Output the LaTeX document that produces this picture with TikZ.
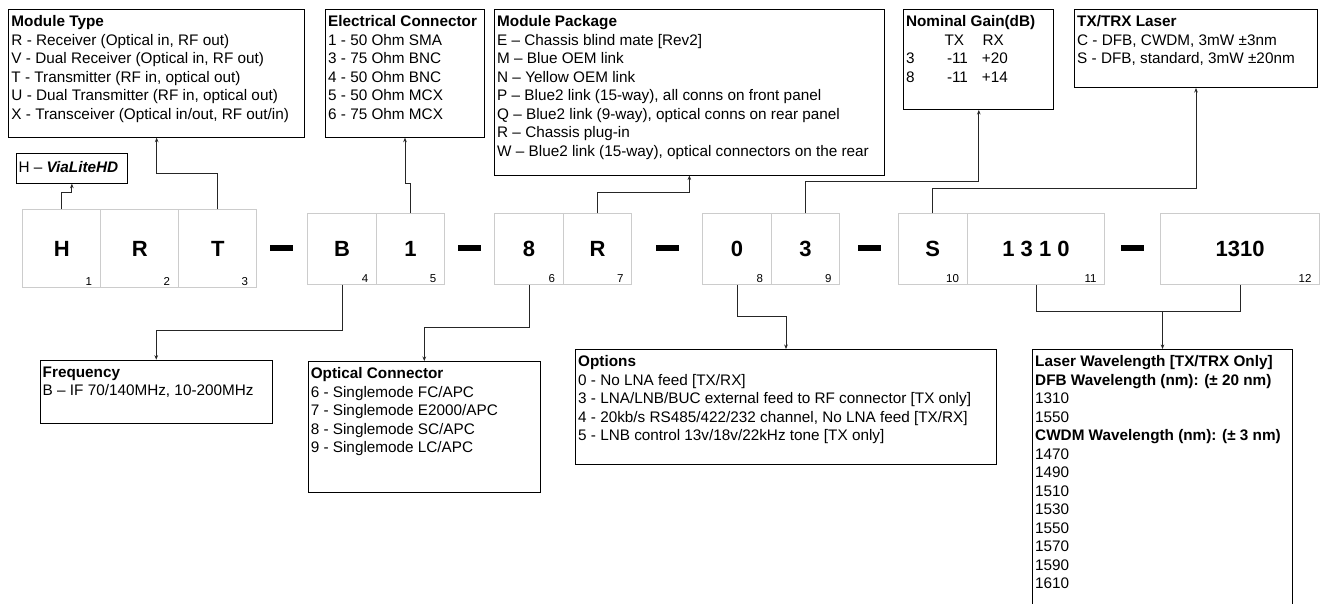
\documentclass[tikz,border=0pt]{standalone}
\usepackage{fontspec}
\setmainfont{Liberation Sans}
\usetikzlibrary{arrows.meta}
\begin{document}
\begin{tikzpicture}[x=1pt,y=-1pt,
  txtbox/.style={draw=black, line width=1pt, anchor=north west, inner sep=0pt, fill=white},
  txt/.style={anchor=north west, inner sep=0pt, align=left, font=\fontsize{15.3}{18.5}\selectfont},
  code/.style={draw=gray!40, line width=1pt, anchor=north west, inner sep=0pt, font=\fontsize{22}{26}\selectfont\bfseries},
  idx/.style={font=\fontsize{11.5}{13}\selectfont, anchor=base east, inner sep=0pt},
  bar/.style={fill=black, inner sep=0pt, minimum width=23pt, minimum height=6.5pt},
  conn/.style={draw=black!85, line width=0.9pt},
  arr/.style={conn, -{Stealth[length=4.5pt,width=3.6pt]}}
]
\useasboundingbox (0,0) rectangle (1322,603);
\clip (0,0) rectangle (1322,603);
\fill[white] (0,0) rectangle (1322,603);

% ---------- text boxes ----------
\node[txtbox, minimum width=295.7pt, minimum height=127.4pt] (mt) at (8.3,9.3) {};
\node[txt] (mtT) at ([xshift=3pt,yshift=-4.4pt]mt.north west) {\rule{0pt}{13pt}\textbf{Module Type}\\
R - Receiver (Optical in, RF out)\\
V - Dual Receiver (Optical in, RF out)\\
T - Transmitter (RF in, optical out)\\
U - Dual Transmitter (RF in, optical out)\\
X - Transceiver (Optical in/out, RF out/in)};

\node[txtbox, minimum width=159pt, minimum height=127.4pt] (ec) at (325,9.3) {};
\node[txt] (ecT) at ([xshift=3pt,yshift=-4.4pt]ec.north west) {\rule{0pt}{13pt}\textbf{Electrical Connector}\\
1 - 50 Ohm SMA\\
3 - 75 Ohm BNC\\
4 - 50 Ohm BNC\\
5 - 50 Ohm MCX\\
6 - 75 Ohm MCX};

\node[txtbox, minimum width=389.7pt, minimum height=165.2pt] (mp) at (494,9.3) {};
\node[txt] (mpT) at ([xshift=3pt,yshift=-4.4pt]mp.north west) {\rule{0pt}{13pt}\textbf{Module Package}\\
E – Chassis blind mate [Rev2]\\
M – Blue OEM link\\
N – Yellow OEM link\\
P – Blue2 link (15-way), all conns on front panel\\
Q – Blue2 link (9-way), optical conns on rear panel\\
R – Chassis plug-in\\
W – Blue2 link (15-way), optical connectors on the rear};

\node[txtbox, minimum width=150pt, minimum height=99.7pt] (ng) at (903.3,9.3) {};
\node[txt] (ngT) at ([xshift=2.5pt,yshift=-4.4pt]ng.north west) {\rule{0pt}{13pt}\textbf{Nominal Gain(dB)}\\
\makebox[38.5pt]{}\makebox[38pt][l]{TX}RX\\
\makebox[41pt][l]{3}\makebox[35pt][l]{-11}+20\\
\makebox[41pt][l]{8}\makebox[35pt][l]{-11}+14};

\node[txtbox, minimum width=243pt, minimum height=77.7pt] (tl) at (1074,9.3) {};
\node[txt] (tlT) at ([xshift=3pt,yshift=-4.4pt]tl.north west) {\rule{0pt}{13pt}\textbf{TX/TRX Laser}\\
C - DFB, CWDM, 3mW ±3nm\\
S - DFB, standard, 3mW ±20nm};

\node[txtbox, minimum width=111.3pt, minimum height=30pt] (vl) at (15.7,152.7) {};
\node[txt] (vlT) at ([xshift=2.6pt,yshift=-7pt]vl.north west) {\rule{0pt}{13pt}H – \textbf{\textit{ViaLiteHD}}};

\node[txtbox, minimum width=232.5pt, minimum height=63.3pt] (fr) at (39.5,359.7) {};
\node[txt] (frT) at ([xshift=3pt,yshift=-4.4pt]fr.north west) {\rule{0pt}{13pt}\textbf{Frequency}\\
B – IF 70/140MHz, 10-200MHz};

\node[txtbox, minimum width=232.4pt, minimum height=131pt] (oc) at (307.6,361) {};
\node[txt] (ocT) at ([xshift=3pt,yshift=-4.4pt]oc.north west) {\rule{0pt}{13pt}\textbf{Optical Connector}\\
6 - Singlemode FC/APC\\
7 - Singlemode E2000/APC\\
8 - Singlemode SC/APC\\
9 - Singlemode LC/APC};

\node[txtbox, minimum width=421pt, minimum height=115pt] (op) at (575,349) {};
\node[txt] (opT) at ([xshift=3pt,yshift=-4.4pt]op.north west) {\rule{0pt}{13pt}\textbf{Options}\\
0 - No LNA feed [TX/RX]\\
3 - LNA/LNB/BUC external feed to RF connector [TX only]\\
4 - 20kb/s RS485/422/232 channel, No LNA feed [TX/RX]\\
5 - LNB control 13v/18v/22kHz tone [TX only]};

\node[txtbox, minimum width=260pt, minimum height=275pt] (lw) at (1032,349) {};
\node[txt] (lwT) at ([xshift=3pt,yshift=-4.4pt]lw.north west) {\rule{0pt}{13pt}\textbf{Laser Wavelength [TX/TRX Only]}\\
\textbf{DFB Wavelength (nm): (± 20 nm)}\\
1310\\
1550\\
\textbf{CWDM Wavelength (nm): (± 3 nm)}\\
1470\\
1490\\
1510\\
1530\\
1550\\
1570\\
1590\\
1610};

% ---------- code row ----------
\node[code, minimum width=78pt, minimum height=77.7pt] (cH) at (22.3,209.3) {H};
\node[code, minimum width=78pt, minimum height=77.7pt] (cR) at (100.3,209.3) {R};
\node[code, minimum width=78pt, minimum height=77.7pt] (cT) at (178.3,209.3) {T};
\node[code, minimum width=69pt, minimum height=70.4pt] (cB) at (307,213.3) {B};
\node[code, minimum width=68pt, minimum height=70.4pt] (c1) at (376,213.3) {1};
\node[code, minimum width=68.4pt, minimum height=70.4pt] (c8) at (494.3,213.3) {8};
\node[code, minimum width=68.6pt, minimum height=70.4pt] (cP) at (562.7,213.3) {R};
\node[code, minimum width=68.4pt, minimum height=70.4pt] (c0) at (702.3,213.3) {0};
\node[code, minimum width=68.6pt, minimum height=70.4pt] (c3) at (770.7,213.3) {3};
\node[code, minimum width=69pt, minimum height=70.4pt] (cS) at (897.7,213.3) {S};
\node[code, minimum width=137.6pt, minimum height=70.4pt] (cW) at (966.7,213.3) {1 3 1 0};
\node[code, minimum width=159.3pt, minimum height=70.4pt] (cX) at (1160,213.3) {1310};

\foreach \b/\n in {cH/1,cR/2,cT/3}
  \node[idx] (i\n) at ([xshift=-9pt,yshift=3pt]\b.south east) {\n};
\foreach \b/\n in {cB/4,c1/5,c8/6,cP/7,c0/8,c3/9,cS/10,cW/11,cX/12}
  \node[idx] (i\n) at ([xshift=-8.6pt,yshift=1.8pt]\b.south east) {\n};

% dashes
\node[bar] (d1) at (281.6,248) {};
\node[bar] (d2) at (469.3,248) {};
\node[bar] (d3) at (667.8,248) {};
\node[bar] (d4) at (869.5,248) {};
\node[bar] (d5) at (1132.5,248) {};

% ---------- connectors ----------
\coordinate (hH) at (0,192);
\coordinate (hT) at (0,173);
\coordinate (h1) at (0,183);
\coordinate (hP) at (0,192.7);
\coordinate (h3) at (0,181.7);
\coordinate (hS) at (0,188.7);
\coordinate (hB) at (0,330);
\coordinate (h8) at (0,327);
\coordinate (h0) at (0,316);
\coordinate (hL) at (0,311.7);

\draw[arr] (cH.north) -- (cH.north |- hH) -| (vl.south);
\draw[arr] (cT.north) -- (cT.north |- hT) -| (mt.south);
\draw[arr] (c1.north) -- (c1.north |- h1) -| (ec.south);
\draw[arr] (cP.north) -- (cP.north |- hP) -| (mp.south);
\draw[arr] (c3.north) -- (c3.north |- h3) -| (ng.south);
\draw[arr] (cS.north) -- (cS.north |- hS) -| (tl.south);
\draw[arr] (cB.south) -- (cB.south |- hB) -| (fr.north);
\draw[arr] (c8.south) -- (c8.south |- h8) -| (oc.north);
\draw[arr] (c0.south) -- (c0.south |- h0) -| (op.north);
\draw[conn] (cW.south) -- (cW.south |- hL) -- (cX.south |- hL) -- (cX.south);
\draw[arr] (lw.north |- hL) -- (lw.north);
\end{tikzpicture}
\end{document}
